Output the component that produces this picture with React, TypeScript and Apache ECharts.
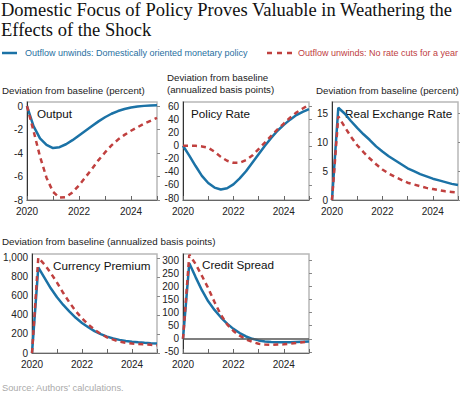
import React, { useEffect, useRef } from 'react';
import * as echarts from 'echarts';

// ---------- data ----------
const quarters = [
  2020, 2020.25, 2020.5, 2020.75, 2021, 2021.25, 2021.5, 2021.75, 2022, 2022.25, 2022.5,
  2022.75, 2023, 2023.25, 2023.5, 2023.75, 2024, 2024.25, 2024.5, 2024.75, 2025,
];

const outputDomestic = [0, -1.7, -2.75, -3.3, -3.57, -3.5, -3.25, -2.9, -2.5, -2.1, -1.7, -1.3, -0.95, -0.65, -0.42, -0.25, -0.12, -0.04, 0.02, 0.06, 0.08];
const outputNoCut = [0, -2.1, -4.3, -6.1, -7.3, -7.8, -7.75, -7.35, -6.75, -6.05, -5.35, -4.6, -3.95, -3.35, -2.85, -2.45, -2.1, -1.8, -1.5, -1.25, -1.0];

const policyDomestic = [0, -15, -31, -46, -57, -64, -67, -65, -59, -50, -39, -26, -13, 0, 12, 23, 32, 40, 47, 52, 56];
const policyNoCut = [0, 0, 0, -1, -3, -9, -17, -23, -26, -26, -22, -15, -5, 5, 15, 25, 34, 43, 51, 57, 63];

const rerDomestic = [0, 16.0, 15.0, 13.7, 12.5, 11.4, 10.4, 9.3, 8.4, 7.6, 6.9, 6.2, 5.5, 5.0, 4.5, 4.1, 3.7, 3.4, 3.1, 2.8, 2.6];
const rerNoCut = [0, 14.5, 12.7, 11.0, 9.5, 8.3, 7.2, 6.2, 5.3, 4.6, 4.0, 3.5, 3.0, 2.7, 2.4, 2.1, 1.9, 1.7, 1.5, 1.4, 1.3];

const premiumDomestic = [0, 900, 790, 680, 585, 505, 435, 370, 315, 270, 230, 198, 172, 152, 138, 127, 118, 112, 107, 103, 100];
const premiumNoCut = [0, 1000, 930, 840, 740, 630, 530, 440, 365, 300, 245, 200, 165, 140, 120, 108, 100, 95, 90, 86, 82];

const spreadDomestic = [0, 288, 235, 185, 143, 110, 82, 58, 38, 22, 9, 0, -6, -10, -12, -13, -13, -13, -12, -11, -10];
const spreadNoCut = [0, 320, 285, 240, 193, 140, 92, 55, 30, 12, -2, -12, -19, -22, -23, -22, -21, -18, -16, -13, -11];

const panelLabels = ['Output', 'Policy Rate', 'Real Exchange Rate', 'Currency Premium', 'Credit Spread'];
const outputTicks = [-8, -6, -4, -2, 0];
const policyTicks = [-80, -60, -40, -20, 0, 20, 40, 60];
const rerTicks = [0, 5, 10, 15];
const premiumTicks = [0, 200, 400, 600, 800, 1000];
const spreadTicks = [-50, 0, 50, 100, 150, 200, 250, 300];
const yearLabels = [2020, 2022, 2024];

const NAME_DOM = 'Outflow unwinds: Domestically oriented monetary policy';
const NAME_NOCUT = 'Outflow unwinds: No rate cuts for a year';

const panels = [
  { dom: outputDomestic, nc: outputNoCut, ticks: outputTicks, min: -8, max: 0.35 },
  { dom: policyDomestic, nc: policyNoCut, ticks: policyTicks, min: -83, max: 67 },
  { dom: rerDomestic, nc: rerNoCut, ticks: rerTicks, min: 0, max: 17 },
  { dom: premiumDomestic, nc: premiumNoCut, ticks: premiumTicks, min: 0, max: 1040 },
  { dom: spreadDomestic, nc: spreadNoCut, ticks: spreadTicks, min: -54, max: 323 },
];

// ---------- layout ----------
const layout = [
  { left: 27, top: 102, width: 130, height: 98, lx: 37, ly: 113 },
  { left: 183, top: 102, width: 126, height: 98, lx: 191, ly: 113 },
  { left: 332, top: 102, width: 126, height: 98, lx: 345, ly: 113 },
  { left: 27, top: 254, width: 130, height: 99, lx: 53, ly: 265 },
  { left: 183, top: 254, width: 126, height: 99, lx: 202, ly: 264 },
];

const SANS = '"Liberation Sans", Arial, sans-serif';
const SERIF = '"Liberation Serif", "Times New Roman", serif';
const BLUE = '#1b72a6';
const RED = '#c0403f';

const fmt = (v: number) => v.toLocaleString('en-US');

export default function App() {
  const ref = useRef<HTMLDivElement>(null);

  useEffect(() => {
    document.body.style.margin = '0';
    if (!ref.current) return;
    const chart = echarts.init(ref.current, undefined, { renderer: 'svg' });

    const grid = layout.map((l) => ({
      left: l.left,
      top: l.top,
      width: l.width,
      height: l.height,
      show: true,
      borderColor: '#b8b8b8',
      borderWidth: 1.5,
      containLabel: false,
    }));

    const xAxis = layout.map((_, i) => ({
      type: 'value',
      gridIndex: i,
      min: 2020,
      max: 2025,
      interval: 1,
      axisLine: { show: true, onZero: false, lineStyle: { color: '#666', width: 1 } },
      axisTick: { show: true, inside: true, length: 4, lineStyle: { color: '#666' } },
      axisLabel: {
        customValues: yearLabels,
        formatter: (v: number) => String(v),
        fontSize: 10,
        color: '#222',
        margin: 6,
        fontFamily: SANS,
      },
      splitLine: { show: false },
    }));

    const yAxis: any[] = [];
    panels.forEach((p, i) => {
      yAxis.push({
        type: 'value',
        gridIndex: i,
        position: 'left',
        min: p.min,
        max: p.max,
        axisLine: { show: true, onZero: false, lineStyle: { color: '#333', width: 1 } },
        axisTick: { show: false },
        axisLabel: {
          customValues: p.ticks,
          formatter: (v: number) => fmt(v),
          fontSize: 10,
          color: '#222',
          margin: 4,
          fontFamily: SANS,
        },
        splitLine: { show: false },
      });
      yAxis.push({
        type: 'value',
        gridIndex: i,
        position: 'right',
        min: p.min,
        max: p.max,
        axisLine: { show: false, onZero: false },
        axisTick: { show: true, customValues: p.ticks, length: 3, lineStyle: { color: '#888' } },
        axisLabel: { show: false },
        splitLine: { show: false },
      });
    });

    const series: any[] = [];
    panels.forEach((p, i) => {
      series.push({
        name: NAME_DOM,
        type: 'line',
        xAxisIndex: i,
        yAxisIndex: 2 * i,
        symbol: 'none',
        data: quarters.map((q, k) => [q, p.dom[k]]),
        lineStyle: { color: BLUE, width: 2.5 },
        itemStyle: { color: BLUE },
        markLine:
          i === 4
            ? {
                silent: true,
                symbol: 'none',
                label: { show: false },
                lineStyle: { color: '#555', width: 1.5, type: 'solid' },
                data: [{ yAxis: 0 }],
              }
            : undefined,
        z: 2,
      });
      series.push({
        name: NAME_NOCUT,
        type: 'line',
        xAxisIndex: i,
        yAxisIndex: 2 * i,
        symbol: 'none',
        data: quarters.map((q, k) => [q, p.nc[k]]),
        lineStyle: { color: RED, width: 2.5, type: [5, 4] },
        itemStyle: { color: RED },
        z: 3,
      });
    });

    const text = (t: string, x: number, y: number, size: number, color = '#222', family = SANS) => ({
      type: 'text',
      x,
      y,
      silent: true,
      style: {
        text: t,
        fontSize: size,
        fontFamily: family,
        fill: color,
        verticalAlign: 'middle',
        align: 'left',
      },
    });

    const graphic = [
      text('Domestic Focus of Policy Proves Valuable in Weathering the', 1, 10, 18.5, '#111', SERIF),
      text('Effects of the Shock', 1, 30, 18.5, '#111', SERIF),
      // legend
      {
        type: 'line',
        silent: true,
        shape: { x1: 2, y1: 53, x2: 17, y2: 53 },
        style: { stroke: BLUE, lineWidth: 2.5 },
      },
      text(NAME_DOM, 25, 53, 9, '#1f6f9f'),
      {
        type: 'line',
        silent: true,
        shape: { x1: 267, y1: 53, x2: 292, y2: 53 },
        style: { stroke: RED, lineWidth: 2.5, lineDash: [5, 5] },
      },
      text(NAME_NOCUT, 298, 53, 9, RED),
      // axis titles
      text('Deviation from baseline (percent)', 2, 90, 9.7),
      text('Deviation from baseline', 167, 77, 9.7),
      text('(annualized basis points)', 167, 89, 9.7),
      text('Deviation from baseline (percent)', 316, 90, 9.7),
      text('Deviation from baseline (annualized basis points)', 2, 241, 9.8),
      ...panelLabels.map((l, i) => text(l, layout[i].lx, layout[i].ly, 11.7, '#111')),
      text("Source: Authors' calculations.", 2, 388, 9.3, '#aaaaaa'),
    ];

    chart.setOption({
      animation: false,
      grid,
      xAxis,
      yAxis,
      series,
      graphic,
    });

    return () => chart.dispose();
  }, []);

  return (
    <div
      ref={ref}
      style={{ position: 'absolute', left: 0, top: 0, width: 460, height: 398, background: '#fff' }}
    />
  );
}
